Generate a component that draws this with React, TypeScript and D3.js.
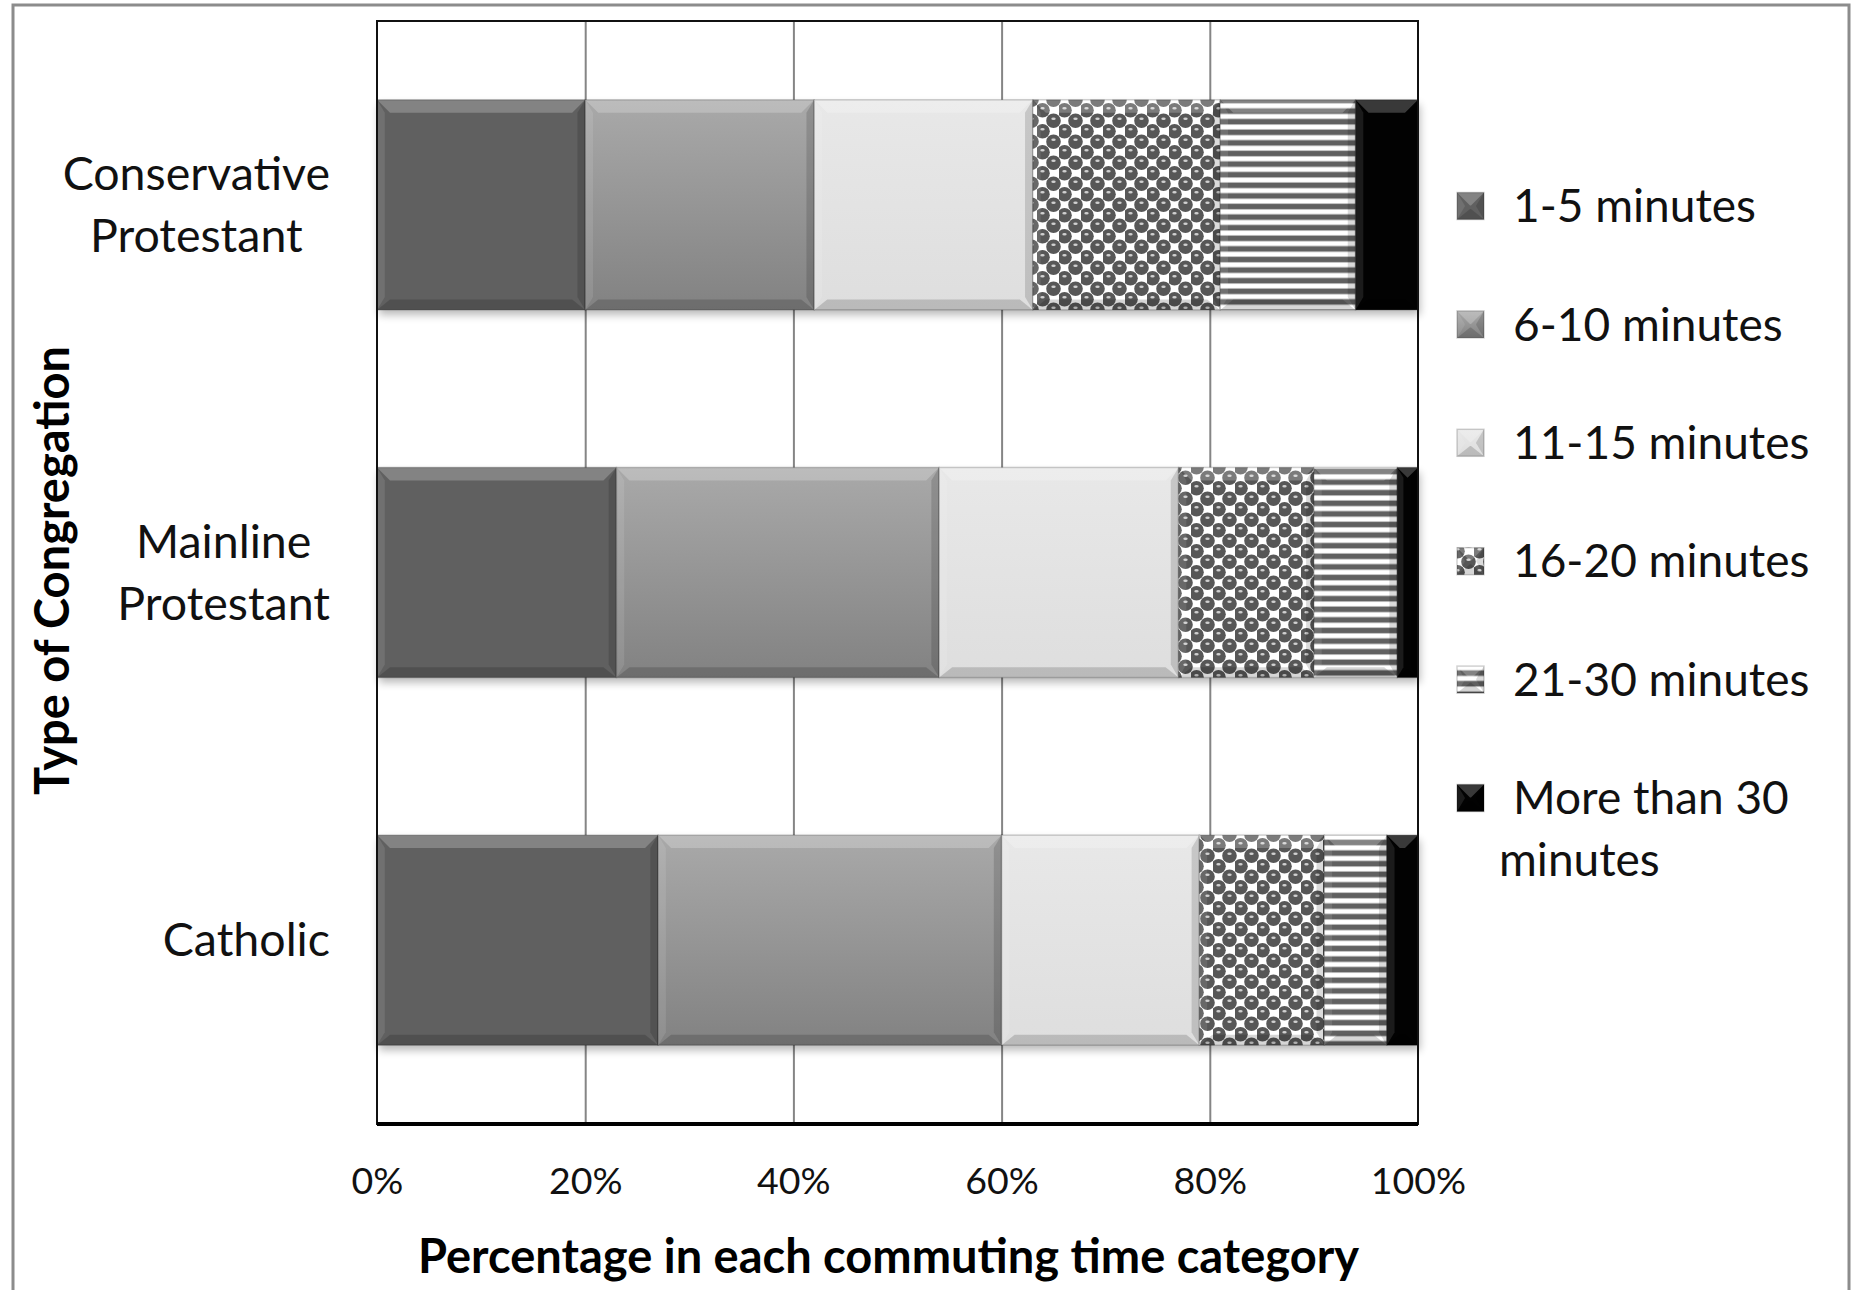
import React, { useEffect, useRef } from "react";
import * as d3 from "d3";

// values (percent of congregations)
const categories = ["Conservative Protestant", "Mainline Protestant", "Catholic"];
const categoryLines = [["Conservative", "Protestant"], ["Mainline", "Protestant"], ["Catholic"]];
const seriesNames = [
  "1-5 minutes",
  "6-10 minutes",
  "11-15 minutes",
  "16-20 minutes",
  "21-30 minutes",
  "More than 30 minutes",
];
const legendLines = [
  ["1-5 minutes"],
  ["6-10 minutes"],
  ["11-15 minutes"],
  ["16-20 minutes"],
  ["21-30 minutes"],
  ["More than 30", "minutes"],
];
const conservative = [20, 22, 21, 18, 13, 6];
const mainline = [23, 31, 23, 13, 8, 2];
const catholic = [27, 33, 19, 12, 6, 3];
const xTicks = [0, 20, 40, 60, 80, 100];

const W = 1857;
const H = 1290;
const FONT = "Lato, 'Open Sans', sans-serif";

const App = () => {
  const ref = useRef<SVGSVGElement>(null);

  useEffect(() => {
    drawChart();
  }, []);

  const drawChart = () => {
    const svg = d3.select(ref.current);
    svg.selectAll("*").remove();

    const margin = { top: 21, right: 439, bottom: 166, left: 377 };
    const width = W - margin.left - margin.right;
    const height = H - margin.top - margin.bottom;

    const rows = categories.map((c, i) => {
      const vals = [conservative, mainline, catholic][i];
      const row: any = { category: c };
      seriesNames.forEach((s, j) => (row[s] = vals[j]));
      return row;
    });
    const stacked = d3.stack().keys(seriesNames)(rows);

    const defs = svg.append("defs");

    // dotted sphere pattern (16-20)
    const dots = defs
      .append("pattern")
      .attr("id", "dots")
      .attr("patternUnits", "userSpaceOnUse")
      .attr("width", 22)
      .attr("height", 21);
    dots.append("rect").attr("width", 22).attr("height", 21).attr("fill", "#fff");
    [[5.5, 5.25], [16.5, 15.75], [16.5, -5.25], [-5.5, 15.75], [27.5, 15.75], [5.5, 26.25]].forEach(([cx, cy]) => {
      dots.append("circle").attr("cx", cx).attr("cy", cy).attr("r", 7.3).attr("fill", "#575757");
      dots
        .append("ellipse")
        .attr("cx", cx)
        .attr("cy", cy - 2)
        .attr("rx", 2.2)
        .attr("ry", 1.3)
        .attr("fill", "#d0d0d0");
    });

    // horizontal stripes (21-30)
    const stripes = defs
      .append("pattern")
      .attr("id", "stripes")
      .attr("patternUnits", "userSpaceOnUse")
      .attr("width", 10)
      .attr("height", 10.6);
    stripes.append("rect").attr("width", 10).attr("height", 10.6).attr("fill", "#fff");
    stripes.append("rect").attr("y", 2.5).attr("width", 10).attr("height", 5.6).attr("fill", "#606060");

    const g6 = defs
      .append("linearGradient")
      .attr("id", "g6")
      .attr("x1", 0)
      .attr("y1", 0)
      .attr("x2", 0)
      .attr("y2", 1);
    g6.append("stop").attr("offset", "0%").attr("stop-color", "#a9a9a9");
    g6.append("stop").attr("offset", "100%").attr("stop-color", "#828282");

    const g11 = defs
      .append("linearGradient")
      .attr("id", "g11")
      .attr("x1", 0)
      .attr("y1", 0)
      .attr("x2", 0)
      .attr("y2", 1);
    g11.append("stop").attr("offset", "0%").attr("stop-color", "#e8e8e8");
    g11.append("stop").attr("offset", "100%").attr("stop-color", "#dedede");

    const blur = defs.append("filter").attr("id", "shadow").attr("x", "-5%").attr("y", "-20%").attr("width", "110%").attr("height", "140%");
    blur.append("feGaussianBlur").attr("stdDeviation", 4);

    const fills = ["#606060", "url(#g6)", "url(#g11)", "url(#dots)", "url(#stripes)", "#020202"];
    const color = d3.scaleOrdinal<string, string>().domain(seriesNames).range(fills);

    // background + outer frame
    svg.append("rect").attr("width", W).attr("height", H).attr("fill", "#fff");
    svg
      .append("rect")
      .attr("x", 13)
      .attr("y", 5)
      .attr("width", 1836)
      .attr("height", 1300)
      .attr("fill", "none")
      .attr("stroke", "#8c8c8c")
      .attr("stroke-width", 3);

    const x = d3.scaleLinear().domain([0, 100]).range([0, width]);
    const y = d3
      .scaleBand()
      .domain(categories)
      .range([0, height])
      .paddingInner(0.4286)
      .paddingOuter(0.2143);

    const plot = svg.append("g").attr("transform", `translate(${margin.left},${margin.top})`);

    // gridlines
    plot
      .append("g")
      .call(d3.axisBottom(x).tickValues(xTicks.slice(1, -1)).tickSize(height).tickFormat(() => ""))
      .call((a) => a.select(".domain").remove())
      .selectAll("line")
      .attr("stroke", "#858585")
      .attr("stroke-width", 2);

    // soft shadows under bars
    plot
      .append("g")
      .selectAll("rect")
      .data(categories)
      .join("rect")
      .attr("x", x(0) + 2)
      .attr("y", (d) => (y(d) as number) + 5)
      .attr("width", x(100) - x(0))
      .attr("height", y.bandwidth())
      .attr("fill", "#000")
      .attr("opacity", 0.28)
      .attr("filter", "url(#shadow)");

    const bevel = (sel: any, x0: number, y0: number, w: number, h: number, fill: string) => {
      const b = Math.min(13, w / 2, h / 2);
      const x1 = x0 + w;
      const y1 = y0 + h;
      sel.append("rect").attr("x", x0).attr("y", y0).attr("width", w).attr("height", h).attr("fill", fill);
      const poly = (pts: number[][], c: string, o: number) =>
        sel
          .append("polygon")
          .attr("points", pts.map((p) => p.join(",")).join(" "))
          .attr("fill", c)
          .attr("opacity", o);
      poly([[x0, y0], [x1, y0], [x1 - b, y0 + b], [x0 + b, y0 + b]], "#fff", 0.22);
      poly([[x0, y0], [x0 + b * 0.6, y0 + b], [x0 + b * 0.6, y1 - b], [x0, y1]], "#fff", 0.1);
      poly([[x1, y0], [x1 - b * 0.6, y0 + b], [x1 - b * 0.6, y1 - b], [x1, y1]], "#000", 0.14);
      poly([[x0, y1], [x1, y1], [x1 - b, y1 - b * 0.8], [x0 + b, y1 - b * 0.8]], "#000", 0.16);
      sel
        .append("rect")
        .attr("x", x0)
        .attr("y", y0)
        .attr("width", w)
        .attr("height", h)
        .attr("fill", "none")
        .attr("stroke", "#000")
        .attr("stroke-opacity", 0.18)
        .attr("stroke-width", 1.5);
    };

    // stacked bars
    stacked.forEach((layer) => {
      const lg = plot.append("g");
      layer.forEach((seg: any) => {
        bevel(
          lg,
          x(seg[0]),
          y(seg.data.category) as number,
          x(seg[1]) - x(seg[0]),
          y.bandwidth(),
          color(layer.key)
        );
      });
    });

    // plot frame
    plot
      .append("rect")
      .attr("width", width)
      .attr("height", height)
      .attr("fill", "none")
      .attr("stroke", "#111")
      .attr("stroke-width", 2);
    plot
      .append("line")
      .attr("x1", 0)
      .attr("x2", width)
      .attr("y1", height)
      .attr("y2", height)
      .attr("stroke", "#000")
      .attr("stroke-width", 4);

    // x axis labels
    const xAxis = plot
      .append("g")
      .attr("transform", `translate(0,${height})`)
      .call(d3.axisBottom(x).tickValues(xTicks).tickSize(0).tickFormat((d) => `${d}%`));
    xAxis.select(".domain").remove();
    xAxis
      .selectAll("text")
      .attr("y", 57)
      .attr("dy", "0.35em")
      .attr("font-family", FONT)
      .attr("font-size", 37.5)
      .attr("fill", "#111");

    // category labels: lines centred within a right-aligned block
    const labelRight = 330;
    categories.forEach((c, i) => {
      const lines = categoryLines[i];
      const cy = (y(c) as number) + y.bandwidth() / 2 + margin.top;
      const t = svg.append("g");
      const texts = lines.map((ln, k) =>
        t
          .append("text")
          .text(ln)
          .attr("y", cy + (k - (lines.length - 1) / 2) * 62)
          .attr("dy", "0.35em")
          .attr("text-anchor", "middle")
          .attr("font-family", FONT)
          .attr("font-size", 46.5)
          .attr("fill", "#111")
      );
      const maxW = d3.max(texts, (tx) => (tx.node() as SVGTextElement).getComputedTextLength()) || 0;
      texts.forEach((tx) => tx.attr("x", labelRight - maxW / 2));
    });

    // axis titles
    svg
      .append("text")
      .text("Percentage in each commuting time category")
      .attr("x", margin.left + width / 2 - 9)
      .attr("y", 1257)
      .attr("dy", "0.35em")
      .attr("text-anchor", "middle")
      .attr("font-family", FONT)
      .attr("font-weight", "bold")
      .attr("font-size", 47)
      .attr("fill", "#000");
    svg
      .append("text")
      .text("Type of Congregation")
      .attr("transform", `translate(53,${margin.top + height / 2 - 2}) rotate(-90)`)
      .attr("dy", "0.35em")
      .attr("text-anchor", "middle")
      .attr("font-family", FONT)
      .attr("font-weight", "bold")
      .attr("font-size", 47)
      .attr("fill", "#000");

    // legend
    const ly = d3.scaleLinear().domain([0, seriesNames.length - 1]).range([206, 798]);
    seriesNames.forEach((s, i) => {
      const lg = svg.append("g");
      bevel(lg, 1457, ly(i) - 13.5, 27, 27, color(s));
      legendLines[i].forEach((ln, k) =>
        lg
          .append("text")
          .text(ln)
          .attr("x", k === 0 ? 1513 : 1499)
          .attr("y", ly(i) + k * 62)
          .attr("dy", "0.35em")
          .attr("font-family", FONT)
          .attr("font-size", 46)
          .attr("fill", "#111")
      );
    });
  };

  return (
    <div>
      <svg
        ref={ref}
        width={W}
        height={H}
        style={{ position: "absolute", left: 0, top: 0, display: "block" }}
      ></svg>
    </div>
  );
};

export default App;
